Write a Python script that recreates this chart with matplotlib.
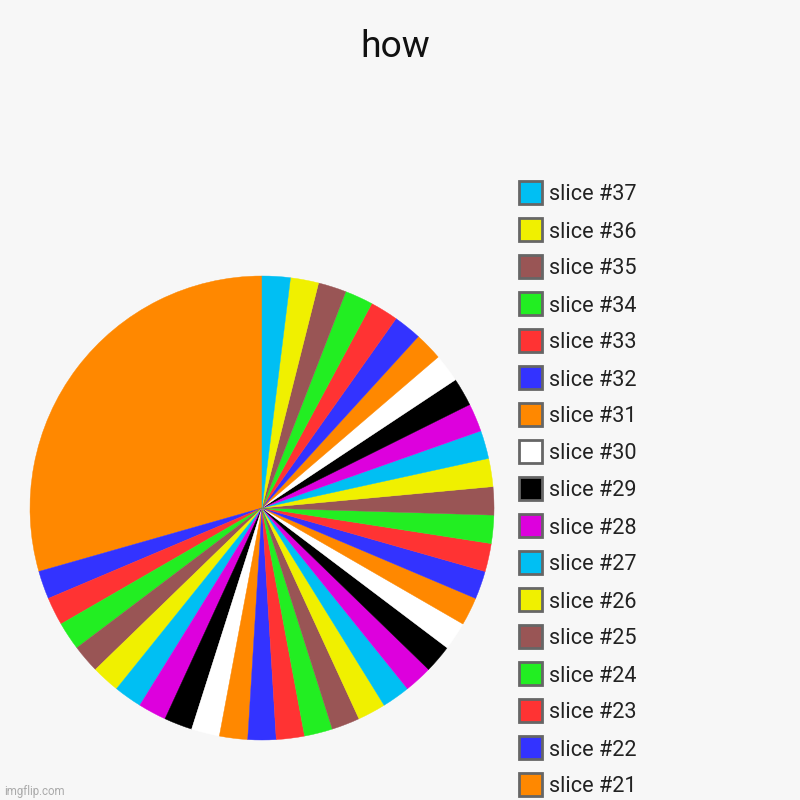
import matplotlib
matplotlib.use("Agg")
import matplotlib.pyplot as plt
from matplotlib.patches import Rectangle

plt.rcParams['font.family'] = ['Roboto', 'DejaVu Sans']

title = "how"
labels = [f"slice #{i}" for i in range(1, 38)]
values = [15] + [1] * 36
palette = ["#ff8800", "#3333ff", "#ff3333", "#22ee22", "#995555",
           "#f0f000", "#00bff3", "#dd00dd", "#000000", "#ffffff"]
colors = [palette[i % len(palette)] for i in range(len(values))]

W, H = 800, 800
bg = "#f7f7f7"
fig = plt.figure(figsize=(8, 8), dpi=100, facecolor=bg)

cx, cy, r = 262, 508, 232
ax = fig.add_axes([(cx - r) / W, (H - cy - r) / H, 2 * r / W, 2 * r / H])
ax.set_facecolor(bg)
wedges, _ = ax.pie(values, colors=colors, startangle=90, counterclock=True,
                   wedgeprops=dict(linewidth=0.3, antialiased=True))
for w, c in zip(wedges, colors):
    w.set_edgecolor(c)
ax.set_xlim(-1, 1)
ax.set_ylim(-1, 1)
ax.set_aspect('equal')
ax.axis('off')

fig.text(395.5 / W, 1 - 47 / H, title, ha='center', va='center',
         fontsize=26.8, color='#111111')

# legend (reverse order, clipped by figure bottom)
y0, dy = 192.5, 37
for k, idx in enumerate(reversed(range(len(values)))):
    yc = y0 + dy * k
    if yc > H + 20:
        break
    rect = Rectangle(((519) / W, 1 - (yc + 11.5) / H), 23 / W, 23 / H,
                     transform=fig.transFigure, facecolor=colors[idx],
                     edgecolor='#666666', linewidth=2)
    fig.add_artist(rect)
    fig.text(549 / W, 1 - yc / H, labels[idx], ha='left', va='center_baseline',
             fontsize=15.6, color='#222222')

fig.text(4 / W, 1 - 792 / H, "imgflip.com", ha='left', va='center',
         fontsize=8.3, color='#aaaaaa')

fig.savefig("out.png", dpi=100, facecolor=bg)
